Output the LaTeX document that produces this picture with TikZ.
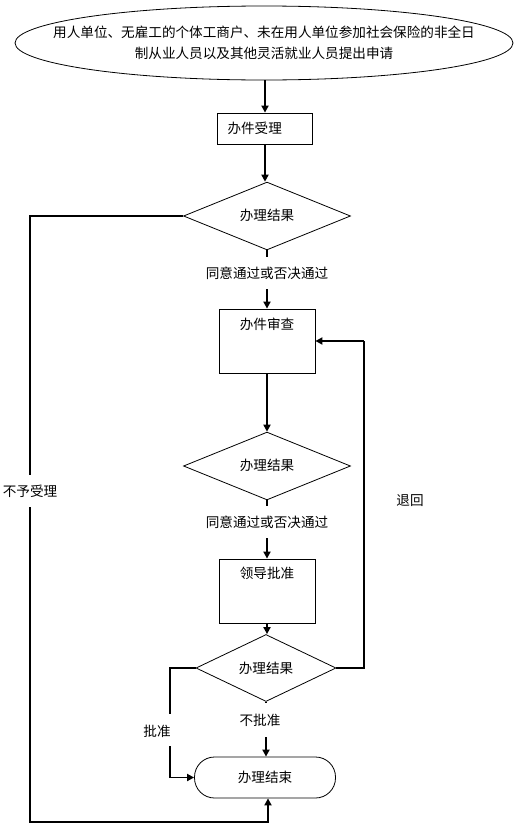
\documentclass[tikz,border=0pt]{standalone}
\usepackage{fontspec}
\newfontfamily\cjk{Noto Sans CJK SC}
\usetikzlibrary{shapes.geometric,arrows.meta}
\begin{document}
\begin{tikzpicture}[x=1pt,y=-1pt,
  every node/.style={font=\cjk\fontsize{13.6}{21}\selectfont, inner sep=0pt},
  shapeline/.style={draw=black, line width=0.8pt},
  flow/.style={line width=1.7pt, -{Triangle[length=7pt,width=7pt]}},
  plain/.style={line width=1.7pt},
  boxA/.style={shapeline, rectangle, minimum width=95pt, minimum height=31pt},
  boxB/.style={shapeline, rectangle, minimum width=96pt, minimum height=64pt},
  decide/.style={shapeline, diamond, minimum width=167pt, minimum height=62pt},
  decideS/.style={shapeline, diamond, minimum width=140pt, minimum height=50pt},
  endbox/.style={shapeline, rectangle, rounded corners=20pt, minimum width=141pt, minimum height=41pt},
  lab/.style={minimum height=32pt}
]
\useasboundingbox (0,0) rectangle (530,838);
% nodes
\node[shapeline, ellipse, minimum width=498pt, minimum height=74pt,
  label={[align=center, inner sep=0pt]center:用人单位、无雇工的个体工商户、未在用人单位参加社会保险的非全日\\制从业人员以及其他灵活就业人员提出申请}] (start) at (264,43) {};
\node[boxA, text width=75pt, inner xsep=10pt, align=left] (b1) at (265,128.5) {办件受理};
\node[decide] (d1) at (267,216) {\raisebox{2pt}{办理结果}};
\node[lab] (l1) at (267,273) {同意通过或否决通过};
\node[boxB, label={[anchor=north, inner sep=0pt, yshift=-9pt]north:办件审查}] (b2) at (267,341) {};
\node[decide] (d2) at (267,466) {\raisebox{2pt}{办理结果}};
\node[lab] (l2) at (267,522) {同意通过或否决通过};
\node[boxB, label={[anchor=north, inner sep=0pt, yshift=-8pt]north:领导批准}] (b3) at (267,591) {};
\node[decideS] (d3) at (266,668) {\raisebox{1pt}{办理结果}};
\node[lab, minimum height=34pt] (l3) at (260,720) {不批准};
\node[endbox] (e) at (265,777.5) {办理结束};
\node[lab] (lr) at (30,491) {不予受理};
\node (lp) at (157,731) {批准};
\node (lb) at (410,501) {退回};
% helper coordinates
\coordinate (cl) at (30,822);
\coordinate (cr) at (364,341);
\coordinate (pa) at (170,714);
\coordinate (pb) at (170,746);
% connectors
\draw[flow] (start.south -| b1.north) -- (b1.north);
\draw[flow] (b1.south) -- (b1.south |- d1.north);
\draw[plain] (d1.south) -- (l1.north);
\draw[flow] (l1.south) -- (b2.north);
\draw[flow] (b2.south) -- (d2.north);
\draw[plain] (d2.south) -- (l2.north);
\draw[flow] (l2.south) -- (b3.north);
\draw[flow] (b3.south) -- (b3.south |- d3.north);
\draw[plain] (d3.south) -- (d3.south |- l3.north);
\draw[flow] (d3.south |- l3.south) -- (d3.south |- e.north);
\draw[plain] (d3.east) -| (cr);
\draw[flow] (cr) -- (b2.east);
\draw[plain] (d3.west) -| (pa);
\draw[flow] (pb) |- (e.west);
\draw[plain] (d1.west) -| (lr.north);
\draw[flow] (lr.south) -- (cl) -| ([xshift=3pt]e.south);
\end{tikzpicture}
\end{document}
